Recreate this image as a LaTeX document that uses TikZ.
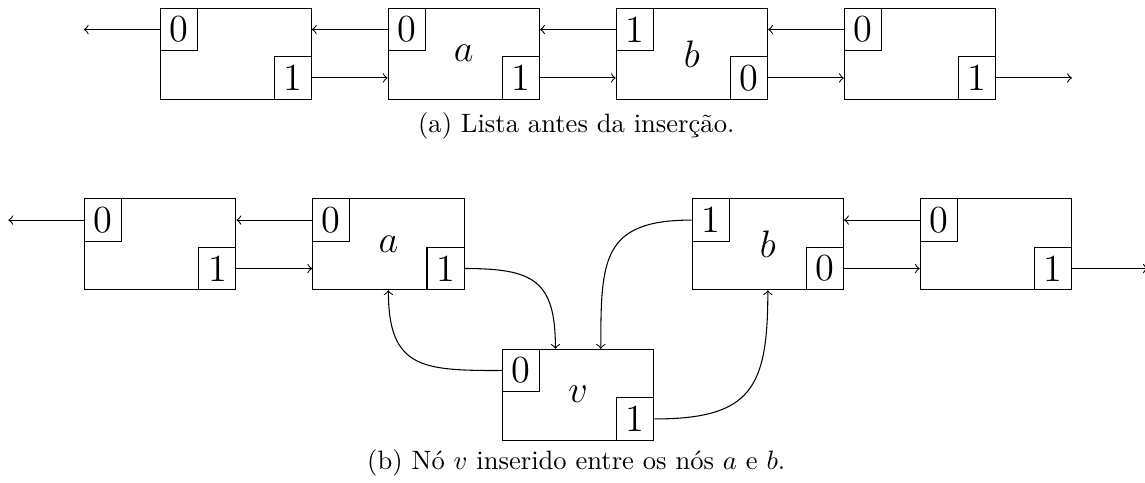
\documentclass[tikz,border=0pt]{standalone}
\usepackage{amsmath}
\usetikzlibrary{positioning,calc}

\begin{document}
\begin{tikzpicture}[node distance=1cm]
  \tikzstyle{cell}=[draw,minimum width=2cm,minimum height=1.2cm,font=\Large]
  \tikzstyle{bit}=[draw,inner sep=0pt,minimum width=.49cm,minimum height=.56cm,font=\Large]
  \tikzstyle{link}=[->]
  \tikzstyle{curvedlink}=[->,looseness=1.45]
  \useasboundingbox (0,0) rectangle (15.13,-6.37);

  % (a) the list before v goes in
  \node[cell] (p1) at (3.115,-.71) {};
  \node[cell,right=of p1] (pa) {$a$};
  \node[cell,right=of pa] (pb) {$b$};
  \node[cell,right=of pb] (p4) {};

  % (b) the same list with v between a and b
  \node[cell] (q1) at (2.118,-3.228) {};
  \node[cell,right=of q1] (qa) {$a$};
  \node[cell,right=3cm of qa] (qb) {$b$};
  \node[cell,right=of qb] (q4) {};
  \node[cell] (v) at ($(qa)!.5!(qb)+(0,-1.988)$) {$v$};

  % the two direction bits of every cell
  \foreach \c/\l/\r in {p1/0/1,pa/0/1,pb/1/0,p4/0/1,q1/0/1,qa/0/1,qb/1/0,q4/0/1,v/0/1} {
    \node[bit,anchor=north west] (\c l) at (\c.north west) {\l};
    \node[bit,anchor=south east] (\c r) at (\c.south east) {\r};
  }

  \coordinate[left=of p1l.west] (pin);
  \coordinate[right=of p4r.east] (pout);
  \coordinate[left=of q1l.west] (qin);
  \coordinate[right=of q4r.east] (qout);
  \coordinate (vfroma) at ([xshift=-.3cm]v.north);
  \coordinate (vfromb) at ([xshift=.3cm]v.north);

  \draw[link] (p1l.west) -- (pin);
  \draw[link] (pal.west) -- (pal.west -| p1.east);
  \draw[link] (p1r.east) -- (p1r.east -| pa.west);
  \draw[link] (pbl.west) -- (pbl.west -| pa.east);
  \draw[link] (par.east) -- (par.east -| pb.west);
  \draw[link] (p4l.west) -- (p4l.west -| pb.east);
  \draw[link] (pbr.east) -- (pbr.east -| p4.west);
  \draw[link] (p4r.east) -- (pout);

  \draw[link] (q1l.west) -- (qin);
  \draw[link] (qal.west) -- (qal.west -| q1.east);
  \draw[link] (q1r.east) -- (q1r.east -| qa.west);
  \draw[curvedlink] (qar.east) to[out=0,in=90] (vfroma);
  \draw[curvedlink] (qbl.west) to[out=180,in=90] (vfromb);
  \draw[curvedlink] (vl.west) to[out=180,in=-90] (qa.south);
  \draw[curvedlink] (vr.east) to[out=0,in=-90] (qb.south);
  \draw[link] (q4l.west) -- (q4l.west -| qb.east);
  \draw[link] (qbr.east) -- (qbr.east -| q4.west);
  \draw[link] (q4r.east) -- (qout);

  \node[anchor=base] (capa) at (7.615,-1.745) {(a) Lista antes da inserção.};
  \node[anchor=base] (capb) at (7.615,-6.198) {(b) Nó $v$ inserido entre os nós $a$ e $b$.};
\end{tikzpicture}
\end{document}
